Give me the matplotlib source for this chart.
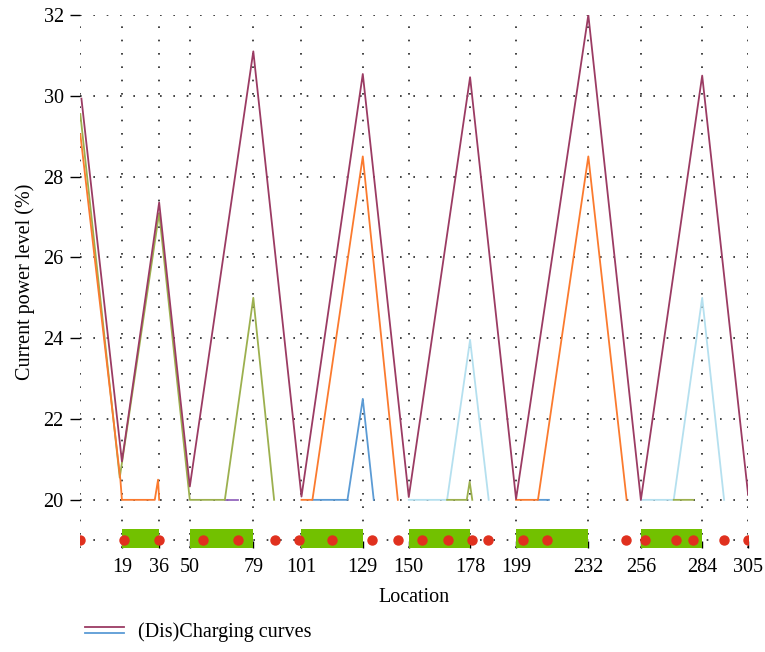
import numpy as np
import matplotlib.pyplot as plt
from matplotlib.legend_handler import HandlerTuple

plt.rcParams['font.family'] = ['Liberation Serif', 'DejaVu Serif']

nan = np.nan

# x ticks (charging station locations) and charging intervals
x_ticks = [19, 36, 50, 79, 101, 129, 150, 178, 199, 232, 256, 284, 305]
y_ticks = [20, 22, 24, 26, 28, 30, 32]
bar_starts = [19, 50, 101, 150, 199, 256]
bar_ends = [36, 79, 129, 178, 232, 284]

# stops along the route
stops_x = [0, 20, 36, 56, 72, 89, 100, 115, 133, 145, 156, 168, 179, 186,
           202, 213, 249, 258, 272, 280, 294, 305]

# (dis)charging curves
maroon_x = [0.5, 19, 36, 50, 79, 101, 129, 150, 178, 199, 232, 256, 284, 305]
maroon_y = [29.93, 20.95, 27.36, 20.33, 31.1, 20.08, 30.54, 20.07, 30.46,
            20.02, 32.0, 20.0, 30.5, 20.12]

orange_x = [0, 18.3, 19, 34, 35.5, 36, nan, 101, 106, 129, 145, nan,
            199, 209, 232, 249.5]
orange_y = [29.05, 20.5, 20, 20, 20.5, 20, nan, 20, 20, 28.5, 20, nan,
            20, 20, 28.5, 20]

olive_x = [0, 18, 36, 50, 66, 79, 88.5, nan, 167.5, 176.5, 177.8, 179, nan,
           271, 280]
olive_y = [29.55, 20.55, 27.1, 20, 20, 25.0, 20, nan, 20, 20, 20.45, 20, nan,
           20, 20]

blue_x = [106, 122, 129, 134, nan, 209, 214]
blue_y = [20, 20, 22.5, 20, nan, 20, 20]

light_x = [150, 167.5, 178, 186.5, nan, 256, 271, 284, 294]
light_y = [20, 20, 23.96, 20, nan, 20, 20, 25.0, 20]

purple_x = [66, 72]
purple_y = [20, 20]

fig = plt.figure(figsize=(7.65, 6.52), dpi=100)
ax = fig.add_axes([0.105, 0.159, 0.873, 0.818])

grid_kw = dict(color='#222222', lw=1.2, ls=(0, (1, 7)), zorder=0)
for xt in x_ticks:
    ax.axvline(xt, **grid_kw)
ax.axvline(0, **grid_kw)
for yt in y_ticks:
    ax.axhline(yt, **grid_kw)

# charging intervals
for s, e in zip(bar_starts, bar_ends):
    ax.bar(s, 0.54, width=e - s, bottom=19 - 0.27, align='edge',
           color='#72c100', zorder=2)

ax.plot(stops_x, [19] * len(stops_x), color='#222222', lw=1.2,
        ls=(0, (1, 7)), zorder=1)
ax.plot(stops_x, [19] * len(stops_x), 'o', color='#e0301e', ms=6.5,
        ls='none', zorder=4)

lw = 1.3
ax.plot(light_x, light_y, color='#b5e0ef', lw=lw, zorder=3)
ax.plot(blue_x, blue_y, color='#5b9bd5', lw=lw, zorder=3)
ax.plot(purple_x, purple_y, color='#9467bd', lw=lw, zorder=3)
ax.plot(olive_x, olive_y, color='#9cb04e', lw=lw, zorder=3)
ax.plot(orange_x, orange_y, color='#fb7a2e', lw=lw, zorder=3)
l1, = ax.plot(maroon_x, maroon_y, color='#9b3b63', lw=lw, zorder=3)
l2, = ax.plot([], [], color='#5b9bd5', lw=lw)

ax.set_xlim(0, 305)
ax.set_ylim(18.8, 32)
ax.set_xticks(x_ticks)
ax.set_yticks(y_ticks)
for sp in ax.spines.values():
    sp.set_visible(False)
ax.tick_params(axis='y', direction='out', length=7, width=1, pad=5,
               labelsize=14.5)
ax.tick_params(axis='x', direction='in', length=5, width=1, pad=7,
               labelsize=14.5)
ax.set_xlabel('Location', fontsize=14.5, labelpad=8)
ax.set_ylabel('Current power level (%)', fontsize=14.5, labelpad=6)

class StackedHandler(HandlerTuple):
    def create_artists(self, legend, orig_handle, xdescent, ydescent,
                       width, height, fontsize, trans):
        artists = []
        for i, h in enumerate(orig_handle):
            y = height * (0.72 - 0.44 * i)
            a = plt.Line2D([0, width], [y, y], color=h.get_color(), lw=lw,
                           transform=trans)
            artists.append(a)
        return artists

fig.legend([(l1, l2)], ['(Dis)Charging curves'],
           handler_map={tuple: StackedHandler()},
           loc='lower left', bbox_to_anchor=(0.088, -0.012), frameon=False,
           fontsize=14.5, handlelength=1.9, handletextpad=0.7)

fig.savefig('out.png', dpi=100)
